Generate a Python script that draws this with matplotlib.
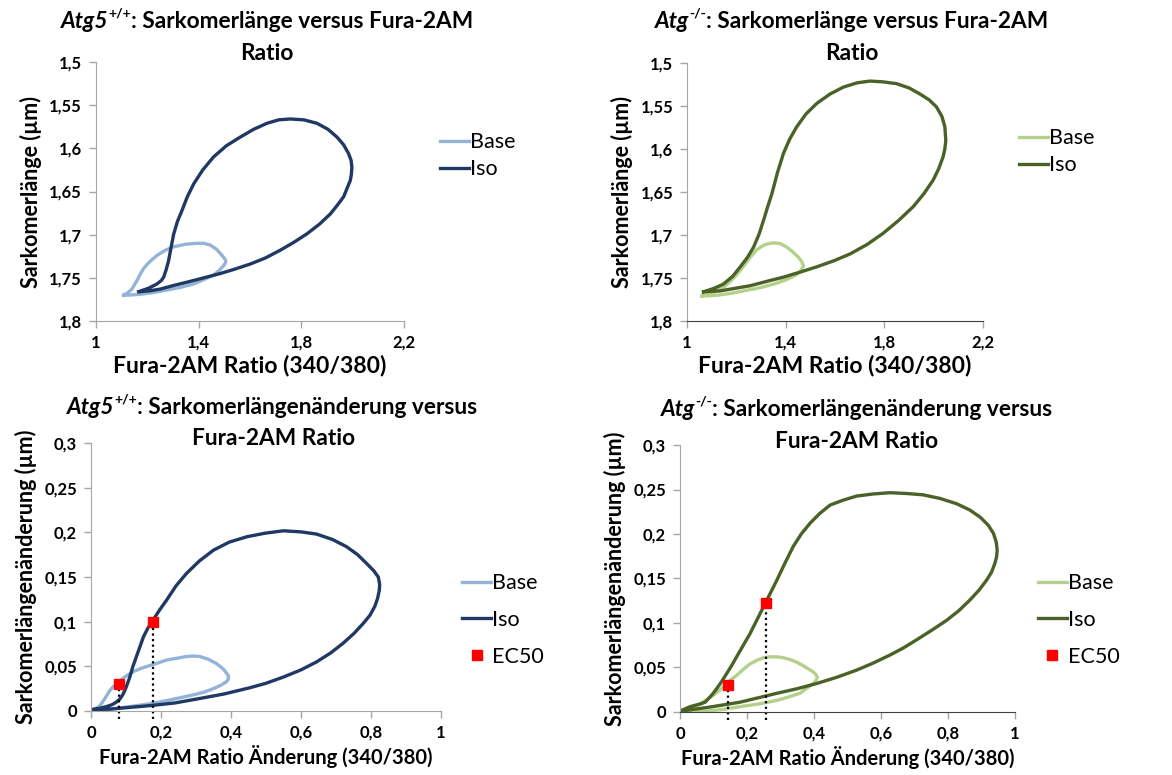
import matplotlib.pyplot as plt
from matplotlib.ticker import FuncFormatter

# -----------------------------------------------
# -             DATA                            -
# -----------------------------------------------
# Atg5+/+ : Sarkomerlaenge vs Fura-2AM ratio
wt_base_x = [1.108, 1.125, 1.140, 1.150, 1.160, 1.172, 1.186, 1.210, 1.238, 1.270,
             1.303, 1.350, 1.394, 1.420, 1.445, 1.470, 1.491, 1.502, 1.506, 1.502,
             1.494, 1.478, 1.458, 1.420, 1.381, 1.330, 1.277, 1.225, 1.173, 1.130, 1.108]
wt_base_y = [1.770, 1.767, 1.763, 1.758, 1.753, 1.746, 1.739, 1.731, 1.724, 1.718,
             1.714, 1.711, 1.710, 1.710, 1.712, 1.717, 1.724, 1.728, 1.731, 1.734,
             1.737, 1.742, 1.747, 1.752, 1.757, 1.761, 1.764, 1.767, 1.769, 1.770, 1.770]
wt_iso_x = [1.166, 1.205, 1.238, 1.255, 1.264, 1.274, 1.283, 1.293, 1.303, 1.317,
            1.335, 1.356, 1.381, 1.416, 1.458, 1.508, 1.562, 1.614, 1.666, 1.712,
            1.757, 1.810, 1.861, 1.904, 1.939, 1.965, 1.984, 1.994, 1.997, 1.995,
            1.991, 1.965, 1.940, 1.913, 1.870, 1.822, 1.770, 1.718, 1.660, 1.601,
            1.540, 1.484, 1.420, 1.355, 1.300, 1.251, 1.210, 1.173]
wt_iso_y = [1.766, 1.762, 1.757, 1.753, 1.749, 1.740, 1.730, 1.714, 1.699, 1.685,
            1.672, 1.656, 1.641, 1.625, 1.610, 1.597, 1.587, 1.578, 1.571, 1.567,
            1.566, 1.567, 1.571, 1.578, 1.587, 1.596, 1.606, 1.614, 1.622, 1.630,
            1.637, 1.656, 1.666, 1.676, 1.688, 1.699, 1.709, 1.718, 1.727, 1.734,
            1.740, 1.745, 1.750, 1.755, 1.759, 1.763, 1.765, 1.766]

# Atg-/- : Sarkomerlaenge vs Fura-2AM ratio
ko_base_x = [1.061, 1.105, 1.148, 1.175, 1.202, 1.230, 1.256, 1.283, 1.310, 1.330,
             1.351, 1.378, 1.404, 1.430, 1.452, 1.465, 1.472, 1.462, 1.445, 1.410,
             1.364, 1.300, 1.229, 1.175, 1.121, 1.061]
ko_base_y = [1.771, 1.767, 1.761, 1.754, 1.746, 1.736, 1.726, 1.717, 1.712, 1.710,
             1.709, 1.710, 1.714, 1.720, 1.726, 1.731, 1.736, 1.741, 1.746, 1.751,
             1.756, 1.761, 1.765, 1.768, 1.770, 1.771]
ko_iso_x = [1.067, 1.110, 1.148, 1.185, 1.216, 1.245, 1.270, 1.292, 1.310, 1.327,
            1.344, 1.366, 1.391, 1.417, 1.445, 1.483, 1.526, 1.580, 1.634, 1.690,
            1.742, 1.797, 1.849, 1.900, 1.944, 1.982, 2.011, 2.033, 2.045, 2.049,
            2.045, 2.038, 2.020, 1.998, 1.960, 1.917, 1.858, 1.795, 1.730, 1.661,
            1.595, 1.526, 1.460, 1.391, 1.322, 1.256, 1.195, 1.135, 1.067]
ko_iso_y = [1.766, 1.762, 1.757, 1.748, 1.737, 1.726, 1.714, 1.699, 1.683, 1.667,
            1.652, 1.628, 1.605, 1.588, 1.574, 1.559, 1.547, 1.536, 1.528, 1.523,
            1.521, 1.522, 1.524, 1.529, 1.536, 1.543, 1.551, 1.562, 1.574, 1.590,
            1.600, 1.609, 1.623, 1.636, 1.652, 1.667, 1.683, 1.698, 1.711, 1.722,
            1.730, 1.737, 1.743, 1.749, 1.754, 1.759, 1.762, 1.765, 1.766]

# Atg5+/+ : Sarkomerlaengenaenderung vs Fura-2AM ratio aenderung
wt_dbase_x = [0.002, 0.015, 0.026, 0.040, 0.054, 0.068, 0.083, 0.100, 0.121, 0.145,
              0.169, 0.193, 0.216, 0.245, 0.273, 0.295, 0.311, 0.335, 0.359, 0.378,
              0.392, 0.393, 0.388, 0.372, 0.350, 0.322, 0.292, 0.245, 0.197, 0.150,
              0.102, 0.060, 0.026, 0.002]
wt_dbase_y = [0.001, 0.003, 0.006, 0.014, 0.023, 0.029, 0.034, 0.039, 0.044, 0.048,
              0.051, 0.054, 0.057, 0.059, 0.061, 0.0615, 0.061, 0.058, 0.053, 0.047,
              0.040, 0.036, 0.033, 0.029, 0.025, 0.021, 0.018, 0.014, 0.010, 0.007,
              0.0045, 0.0025, 0.0015, 0.001]
wt_diso_x = [0.002, 0.025, 0.045, 0.060, 0.073, 0.084, 0.092, 0.101, 0.111, 0.120,
             0.130, 0.140, 0.150, 0.163, 0.178, 0.196, 0.216, 0.243, 0.273, 0.310,
             0.350, 0.395, 0.445, 0.497, 0.550, 0.600, 0.645, 0.690, 0.730, 0.762,
             0.788, 0.808, 0.821, 0.825, 0.824, 0.819, 0.811, 0.797, 0.778, 0.752,
             0.721, 0.685, 0.645, 0.600, 0.550, 0.500, 0.454, 0.380, 0.311, 0.240,
             0.169, 0.110, 0.054, 0.002]
wt_diso_y = [0.0015, 0.003, 0.005, 0.007, 0.010, 0.014, 0.019, 0.027, 0.038, 0.050,
             0.061, 0.072, 0.083, 0.093, 0.102, 0.113, 0.124, 0.140, 0.154, 0.168,
             0.180, 0.189, 0.195, 0.199, 0.2017, 0.2005, 0.198, 0.192, 0.184, 0.175,
             0.165, 0.157, 0.150, 0.142, 0.135, 0.126, 0.117, 0.107, 0.098, 0.087,
             0.076, 0.065, 0.055, 0.046, 0.038, 0.031, 0.026, 0.019, 0.014, 0.009,
             0.006, 0.004, 0.002, 0.0015]
wt_ec50_x = [0.081, 0.178]
wt_ec50_y = [0.030, 0.100]

# Atg-/- : Sarkomerlaengenaenderung vs Fura-2AM ratio aenderung
ko_dbase_x = [0.0, 0.030, 0.060, 0.080, 0.100, 0.120, 0.139, 0.154, 0.169, 0.189,
              0.209, 0.229, 0.249, 0.269, 0.289, 0.308, 0.328, 0.348, 0.368, 0.385,
              0.398, 0.406, 0.410, 0.406, 0.398, 0.380, 0.358, 0.325, 0.289, 0.235,
              0.179, 0.130, 0.080, 0.040, 0.0]
ko_dbase_y = [0.0, 0.004, 0.009, 0.014, 0.019, 0.025, 0.032, 0.037, 0.041, 0.048,
              0.054, 0.058, 0.061, 0.062, 0.062, 0.061, 0.059, 0.056, 0.052, 0.048,
              0.045, 0.042, 0.039, 0.035, 0.032, 0.027, 0.021, 0.017, 0.013, 0.009,
              0.006, 0.003, 0.001, 0.0005, 0.0]
ko_diso_x = [0.0, 0.030, 0.060, 0.075, 0.085, 0.097, 0.109, 0.124, 0.139, 0.154,
             0.169, 0.189, 0.209, 0.229, 0.249, 0.269, 0.289, 0.313, 0.338, 0.362,
             0.388, 0.417, 0.448, 0.487, 0.527, 0.577, 0.627, 0.677, 0.726, 0.776,
             0.826, 0.865, 0.896, 0.920, 0.936, 0.944, 0.947, 0.945, 0.940, 0.930,
             0.915, 0.893, 0.866, 0.833, 0.796, 0.752, 0.706, 0.667, 0.627, 0.577,
             0.527, 0.468, 0.408, 0.348, 0.289, 0.234, 0.179, 0.130, 0.080, 0.040,
             0.005]
ko_diso_y = [0.001, 0.006, 0.009, 0.011, 0.015, 0.020, 0.026, 0.034, 0.043, 0.052,
             0.062, 0.075, 0.088, 0.103, 0.118, 0.133, 0.148, 0.167, 0.186, 0.200,
             0.212, 0.223, 0.2325, 0.238, 0.2426, 0.245, 0.2464, 0.2455, 0.244, 0.240,
             0.234, 0.227, 0.219, 0.210, 0.2006, 0.191, 0.182, 0.174, 0.167, 0.157,
             0.148, 0.137, 0.126, 0.114, 0.103, 0.092, 0.081, 0.072, 0.064, 0.055,
             0.047, 0.039, 0.032, 0.026, 0.021, 0.016, 0.011, 0.008, 0.005, 0.003,
             0.001]
ko_ec50_x = [0.142, 0.256]
ko_ec50_y = [0.030, 0.123]

# -----------------------------------------------
# -             STYLE                           -
# -----------------------------------------------
plt.rcParams['font.family'] = ['Lato', 'DejaVu Sans']
plt.rcParams['font.weight'] = 'bold'
plt.rcParams['axes.labelweight'] = 'bold'

blue_light = '#95B3D7'
blue_dark = '#1F3864'
green_light = '#B5D08A'
green_dark = '#4A6127'

comma = FuncFormatter(lambda v, p: ('%g' % round(v, 4)).replace('.', ','))

fig = plt.figure(figsize=(11.72, 7.75), dpi=100)
renderer = fig.canvas.get_renderer()


def style_axes(ax, dark_bottom=False):
    for s in ['top', 'right']:
        ax.spines[s].set_visible(False)
    ax.spines['left'].set_color('#A6A6A6')
    ax.spines['bottom'].set_color('#404040' if dark_bottom else '#A6A6A6')
    ax.tick_params(colors='#A6A6A6', labelcolor='black', length=5, width=1, labelsize=12,
                   pad=5)
    ax.xaxis.set_major_formatter(comma)
    ax.yaxis.set_major_formatter(comma)


def add_legend(ax, x, y, spacing):
    leg = ax.legend(loc='center left', bbox_to_anchor=(x, y), bbox_transform=fig.transFigure,
                    frameon=False, prop={'size': 15.5, 'weight': 'normal'},
                    handlelength=1.35, handletextpad=0.05, labelspacing=spacing,
                    borderaxespad=0)
    return leg


def title_line(xc, yc, tag, sup, rest, size=16.3):
    # italic gene name + small superscript + bold rest, centred as one line
    parts = [fig.text(0, 0, tag, fontsize=size, style='italic', va='baseline'),
             fig.text(0, 0, sup, fontsize=size * 0.62, va='baseline'),
             fig.text(0, 0, rest, fontsize=size, va='baseline')]
    widths = [p.get_window_extent(renderer).width for p in parts]
    x = xc - sum(widths) / 2
    base = yc - size * 0.36
    rise = [0, size * 0.62, 0]
    for p, w, r in zip(parts, widths, rise):
        p.set_transform(None)
        p.set_position((x, base + r))
        x += w


# -----------------------------------------------
# -         TOP ROW: Sarkomerlaenge             -
# -----------------------------------------------
ax1 = fig.add_axes([0.0819, 0.5858, 0.2628, 0.3342])
ax1.plot(wt_base_x, wt_base_y, color=blue_light, lw=2.4, label='Base', solid_joinstyle='round')
ax1.plot(wt_iso_x, wt_iso_y, color=blue_dark, lw=2.4, label='Iso', solid_joinstyle='round')
ax1.set_xlim(1, 2.2)
ax1.set_ylim(1.8, 1.5)
ax1.set_xticks([1, 1.4, 1.8, 2.2])
ax1.set_yticks([1.5, 1.55, 1.6, 1.65, 1.7, 1.75, 1.8])
ax1.set_xlabel('Fura-2AM Ratio (340/380)', fontsize=16.5, labelpad=3)
ax1.set_ylabel('Sarkomerlänge (µm)', fontsize=15.5, labelpad=5)
style_axes(ax1)
add_legend(ax1, 0.368, 0.799, 0.33)

ax2 = fig.add_axes([0.5862, 0.5858, 0.2526, 0.3329])
ax2.plot(ko_base_x, ko_base_y, color=green_light, lw=2.4, label='Base', solid_joinstyle='round')
ax2.plot(ko_iso_x, ko_iso_y, color=green_dark, lw=2.4, label='Iso', solid_joinstyle='round')
ax2.set_xlim(1, 2.2)
ax2.set_ylim(1.8, 1.5)
ax2.set_xticks([1, 1.4, 1.8, 2.2])
ax2.set_yticks([1.5, 1.55, 1.6, 1.65, 1.7, 1.75, 1.8])
ax2.set_xlabel('Fura-2AM Ratio (340/380)', fontsize=16.5, labelpad=3)
ax2.set_ylabel('Sarkomerlänge (µm)', fontsize=15.5, labelpad=5)
style_axes(ax2, dark_bottom=True)
add_legend(ax2, 0.862, 0.804, 0.33)

# -----------------------------------------------
# -     BOTTOM ROW: Sarkomerlaengenaenderung    -
# -----------------------------------------------
ax3 = fig.add_axes([0.0776, 0.0826, 0.2986, 0.3458])
ax3.plot(wt_dbase_x, wt_dbase_y, color=blue_light, lw=2.4, label='Base', solid_joinstyle='round')
ax3.plot(wt_diso_x, wt_diso_y, color=blue_dark, lw=2.4, label='Iso', solid_joinstyle='round')
ax3.vlines(wt_ec50_x, -0.009, wt_ec50_y, colors='black', linestyles=(0, (1, 1.5)), lw=1.6,
           clip_on=False)
ax3.plot(wt_ec50_x, wt_ec50_y, 's', color='#FF0000', ms=7, label='EC50', clip_on=False, zorder=5)
ax3.set_xlim(0, 1)
ax3.set_ylim(0, 0.3)
ax3.set_xticks([0, 0.2, 0.4, 0.6, 0.8, 1])
ax3.set_yticks([0, 0.05, 0.1, 0.15, 0.2, 0.25, 0.3])
ax3.set_xlabel('Fura-2AM Ratio Änderung (340/380)', fontsize=14.5, labelpad=3)
ax3.set_ylabel('Sarkomerlängenänderung (µm)', fontsize=15.5, labelpad=5)
style_axes(ax3)
add_legend(ax3, 0.387, 0.200, 0.78)

ax4 = fig.add_axes([0.5802, 0.0813, 0.2858, 0.3445])
ax4.plot(ko_dbase_x, ko_dbase_y, color=green_light, lw=2.4, label='Base', solid_joinstyle='round')
ax4.plot(ko_diso_x, ko_diso_y, color=green_dark, lw=2.4, label='Iso', solid_joinstyle='round')
ax4.vlines(ko_ec50_x, -0.009, ko_ec50_y, colors='black', linestyles=(0, (1, 1.5)), lw=1.6,
           clip_on=False)
ax4.plot(ko_ec50_x, ko_ec50_y, 's', color='#FF0000', ms=7, label='EC50', clip_on=False, zorder=5)
ax4.set_xlim(0, 1)
ax4.set_ylim(0, 0.3)
ax4.set_xticks([0, 0.2, 0.4, 0.6, 0.8, 1])
ax4.set_yticks([0, 0.05, 0.1, 0.15, 0.2, 0.25, 0.3])
ax4.set_xlabel('Fura-2AM Ratio Änderung (340/380)', fontsize=14.5, labelpad=3)
ax4.set_ylabel('Sarkomerlängenänderung (µm)', fontsize=15.5, labelpad=5)
style_axes(ax4, dark_bottom=True)
add_legend(ax4, 0.878, 0.200, 0.78)

# -----------------------------------------------
# -         TITLES                              -
# -----------------------------------------------
H = 775
title_line(267, H - 22, 'Atg5', '+/+', ': Sarkomerlänge versus Fura-2AM')
fig.text(267 / 1172, 1 - 53 / H, 'Ratio', ha='center', va='center', fontsize=16.3)
title_line(852, H - 22, 'Atg', '-/-', ': Sarkomerlänge versus Fura-2AM')
fig.text(852 / 1172, 1 - 53 / H, 'Ratio', ha='center', va='center', fontsize=16.3)
title_line(272, H - 408, 'Atg5', '+/+', ': Sarkomerlängenänderung versus')
fig.text(274 / 1172, 1 - 439 / H, 'Fura-2AM Ratio', ha='center', va='center', fontsize=16.3)
title_line(857, H - 410, 'Atg', '-/-', ': Sarkomerlängenänderung versus')
fig.text(857 / 1172, 1 - 441 / H, 'Fura-2AM Ratio', ha='center', va='center', fontsize=16.3)

plt.savefig('out.png', dpi=100)
